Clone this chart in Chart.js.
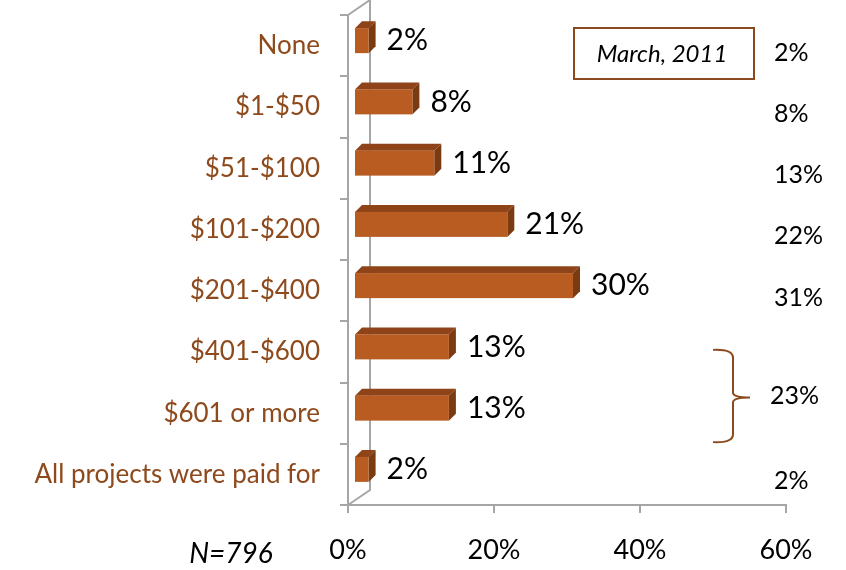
<!DOCTYPE html>
<html>
<head>
<meta charset="utf-8">
<script src="https://cdn.jsdelivr.net/npm/chart.js@4"></script>
<style>
  html, body { margin: 0; padding: 0; background: #fff; }
  #wrap { width: 846px; height: 570px; }
</style>
</head>
<body>
<div id="wrap"><canvas id="spendChart" width="846" height="570"></canvas></div>
<script>
// données
const categories = ['None', '$1-$50', '$51-$100', '$101-$200', '$201-$400', '$401-$600', '$601 or more', 'All projects were paid for'];
const values = [2, 8, 11, 21, 30, 13, 13, 2];
const marchValues = [2, 8, 13, 22, 31, null, null, 2];
const marchGroup = { from: 5, to: 6, value: 23 };
const xTicks = [0, 20, 40, 60];

const BROWN = '#8E4A1C';
const FRONT = '#B85C22';
const TOP = '#8E4418';
const SIDE = '#7A3A12';
const FONT = 'Lato, "Open Sans", sans-serif';

// barres 3D + étiquettes + décor
const chart3d = {
    id: 'chart3d',
    beforeDatasetsDraw(chart) {
        const { ctx, chartArea: a } = chart;
        ctx.save();
        ctx.strokeStyle = '#A6A6A6';
        ctx.lineWidth = 2;
        ctx.beginPath();
        // mur du fond
        ctx.moveTo(a.left + 22, 0);
        ctx.lineTo(a.left + 22, a.bottom - 15);
        ctx.lineTo(a.left, a.bottom);
        ctx.moveTo(a.left, a.top);
        ctx.lineTo(a.left + 22, a.top - 15);
        // ligne du bas prolongée
        ctx.moveTo(a.left - 8, a.bottom);
        ctx.lineTo(a.left, a.bottom);
        ctx.stroke();
        ctx.restore();
    },
    afterDatasetsDraw(chart) {
        const { ctx } = chart;
        const meta = chart.getDatasetMeta(0);
        const dx = 6, dy = -5, d = 7;
        ctx.save();
        meta.data.forEach((bar, i) => {
            const x0 = bar.base + dx;
            const x1 = bar.x + dx;
            const yT = bar.y - bar.height / 2 + dy;
            const yB = bar.y + bar.height / 2 + dy;
            // dessus
            ctx.fillStyle = TOP;
            ctx.beginPath();
            ctx.moveTo(x0, yT);
            ctx.lineTo(x0 + d, yT - d);
            ctx.lineTo(x1 + d, yT - d);
            ctx.lineTo(x1, yT);
            ctx.closePath();
            ctx.fill();
            // côté
            ctx.fillStyle = SIDE;
            ctx.beginPath();
            ctx.moveTo(x1, yT);
            ctx.lineTo(x1 + d, yT - d);
            ctx.lineTo(x1 + d, yB - d);
            ctx.lineTo(x1, yB);
            ctx.closePath();
            ctx.fill();
            // face
            ctx.fillStyle = FRONT;
            ctx.fillRect(x0, yT, x1 - x0, yB - yT);
            // valeur
            ctx.fillStyle = '#000';
            ctx.font = '30px ' + FONT;
            ctx.textAlign = 'left';
            ctx.textBaseline = 'middle';
            ctx.fillText(values[i] + '%', x1 + d + 11, (yT + yB) / 2);
        });
        ctx.restore();
    },
    afterDraw(chart) {
        const { ctx } = chart;
        const yScale = chart.scales.y;
        ctx.save();
        // colonne mars 2011
        ctx.fillStyle = '#000';
        ctx.font = '25px ' + FONT;
        ctx.textAlign = 'left';
        ctx.textBaseline = 'middle';
        marchValues.forEach((v, i) => {
            if (v === null) return;
            ctx.fillText(v + '%', 774, yScale.getPixelForValue(i) + 7);
        });
        const yA = yScale.getPixelForValue(marchGroup.from);
        const yB = yScale.getPixelForValue(marchGroup.to);
        const yMid = (yA + yB) / 2 + 15;
        ctx.fillText(marchGroup.value + '%', 770, yMid - 2);
        // accolade
        const top = yA - 2, bot = yB + 29, bx = 733;
        ctx.strokeStyle = '#8B4A1E';
        ctx.lineWidth = 2;
        ctx.beginPath();
        ctx.moveTo(713, top);
        ctx.quadraticCurveTo(bx, top - 1, bx, top + 8);
        ctx.lineTo(bx, yMid - 5);
        ctx.quadraticCurveTo(bx, yMid, bx + 17, yMid);
        ctx.moveTo(bx + 17, yMid);
        ctx.quadraticCurveTo(bx, yMid, bx, yMid + 5);
        ctx.lineTo(bx, bot - 8);
        ctx.quadraticCurveTo(bx, bot + 1, 713, bot);
        ctx.stroke();
        // encadré
        ctx.strokeRect(574, 28, 180, 51);
        ctx.font = 'italic 24px ' + FONT;
        ctx.textAlign = 'center';
        ctx.fillText('March, 2011', 662, 54);
        // N
        ctx.font = 'italic 28px ' + FONT;
        ctx.fillText('N=796', 231, 554);
        ctx.restore();
    }
};

new Chart(document.getElementById('spendChart'), {
    type: 'bar',
    data: {
        labels: categories,
        datasets: [{
            data: values,
            backgroundColor: 'rgba(0,0,0,0)',
            barThickness: 25
        }]
    },
    options: {
        indexAxis: 'y',
        responsive: false,
        animation: false,
        layout: { padding: { top: 15, right: 60, left: 0, bottom: 0 } },
        plugins: {
            legend: { display: false },
            tooltip: { enabled: false }
        },
        scales: {
            x: {
                min: 0,
                max: 60,
                afterBuildTicks: scale => { scale.ticks = xTicks.map(v => ({ value: v })); },
                afterFit: scale => {
                    scale.height = 65;
                    scale.paddingLeft = 0;
                    scale.paddingRight = 0;
                },
                grid: { drawOnChartArea: false, tickLength: 8, color: '#A6A6A6', lineWidth: 2 },
                border: { color: '#A6A6A6', width: 2 },
                ticks: {
                    callback: v => v + '%',
                    color: '#000',
                    padding: 21,
                    maxRotation: 0,
                    font: { family: FONT, size: 27 }
                }
            },
            y: {
                afterFit: scale => {
                    scale.width = 348;
                    scale.paddingTop = 0;
                    scale.paddingBottom = 0;
                },
                grid: { drawOnChartArea: false, offset: true, tickLength: 8, color: '#A6A6A6', lineWidth: 2 },
                border: { color: '#A6A6A6', width: 2 },
                ticks: {
                    color: BROWN,
                    padding: 20,
                    font: { family: FONT, size: 26 }
                }
            }
        }
    },
    plugins: [chart3d]
});
</script>
</body>
</html>
